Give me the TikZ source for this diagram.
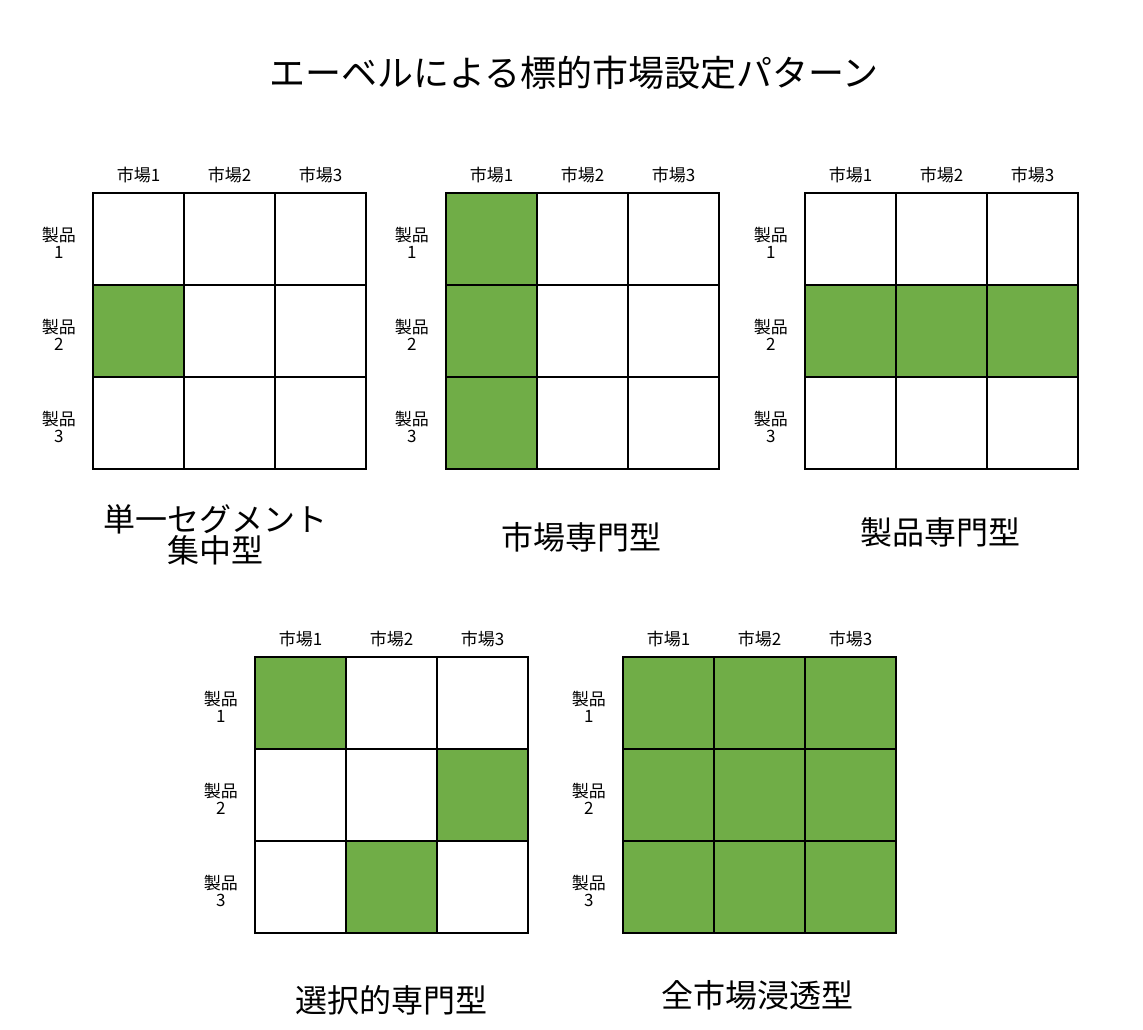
\documentclass[tikz,border=0pt]{standalone}
\usepackage{fontspec}
\setmainfont{Noto Sans CJK JP}
\usetikzlibrary{positioning}
\definecolor{segGreen}{HTML}{70AD47}
\tikzset{
	cell/.style={draw, line width=1.8pt, minimum width=91pt, minimum height=92pt, inner sep=0pt, outer sep=0pt},
	colLabel/.style={font=\fontsize{17}{17}\selectfont, inner sep=0pt},
	rowLabel/.style={font=\fontsize{17}{17}\selectfont, align=center, inner sep=0pt, yshift=-4pt},
	capText/.style={font=\fontsize{32}{31}\selectfont, align=center},
}
% #1,#2: top left corner, #3: name, #4: green cells as row/col
\newcommand{\drawMarket}[4] {
	\foreach \r/\c in {#4}{
		\fill [segGreen] (#1+\c*91-91,#2+\r*92-92) rectangle ++(91,92);
	}
	\foreach \r in {1,...,3}{
		\foreach \c in {1,...,3}{
			\node [cell] (#3-\r-\c) at (#1+\c*91-45.5,#2+\r*92-46) {};
		}
	}
	\foreach \c in {1,...,3}
		\node [colLabel, above=10pt of #3-1-\c] (#3-m\c) {市場\c};
	\foreach \r in {1,...,3}
		\node [rowLabel, left=17pt of #3-\r-1] (#3-p\r) {製品\\\r};
}
\begin{document}
\begin{tikzpicture}[x=1pt,y=-1pt]
	\useasboundingbox (0,0) rectangle (1143,1030);

	\node [font=\fontsize{36}{40}\selectfont] (title) at (574,73) {エーベルによる標的市場設定パターン};

	\drawMarket{93}{193}{single}{2/1}
	\drawMarket{446}{193}{market}{1/1,2/1,3/1}
	\drawMarket{805}{193}{product}{2/1,2/2,2/3}
	\drawMarket{255}{657}{selective}{1/1,2/3,3/2}
	\drawMarket{623}{657}{full}{1/1,1/2,1/3,2/1,2/2,2/3,3/1,3/2,3/3}

	\node [capText] (single-cap) at (215,535) {単一セグメント\\集中型};
	\node [capText] (market-cap) at (581,537) {市場専門型};
	\node [capText] (product-cap) at (940,532) {製品専門型};
	\node [capText] (selective-cap) at (391,1000) {選択的専門型};
	\node [capText] (full-cap) at (757,995) {全市場浸透型};

\end{tikzpicture}
\end{document}
